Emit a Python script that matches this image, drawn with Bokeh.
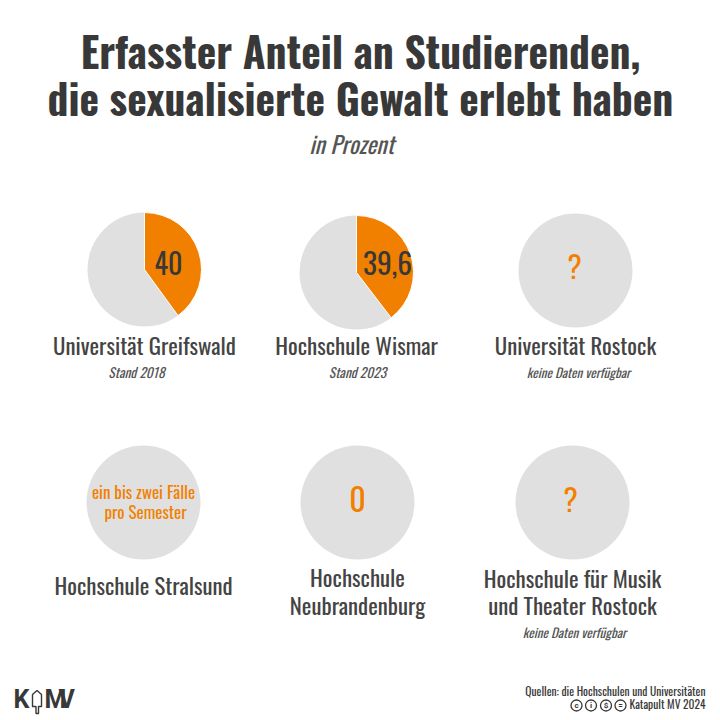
from math import pi
from bokeh.plotting import figure
from bokeh.models import Range1d
from bokeh.core.properties import value
from bokeh.embed import file_html
from bokeh.resources import INLINE

FONT = "Oswald"
ORANGE = "#F28000"
GREY = "#E0E0E0"
DARK = "#383838"
SOFT = "#444444"
NOTE = "#555555"

title_lines = ["Erfasster Anteil an Studierenden,", "die sexualisierte Gewalt erlebt haben"]
subtitle = "in Prozent"
names = ["Universität Greifswald", "Hochschule Wismar", "Universität Rostock",
         "Hochschule Stralsund", "Hochschule", "Neubrandenburg",
         "Hochschule für Musik", "und Theater Rostock"]
shares = [40, 39.6]
pie_labels = ["40", "39,6"]
notes = ["Stand 2018", "Stand 2023", "keine Daten verfügbar", "keine Daten verfügbar"]
placeholders = ["?", "0", "?"]
stralsund_lines = ["ein bis zwei Fälle", "pro Semester"]
source_lines = ["Quellen: die Hochschulen und Universitäten", "Katapult MV 2024"]
licence_glyphs = ["c", "i", "$", "="]

# layout, in page pixels
cx = [144, 356, 575, 143, 357, 572]
cy = [269, 272, 270, 502, 502, 502]
R = 57

p = figure(width=720, height=720, x_range=Range1d(0, 720), y_range=Range1d(0, 720),
           toolbar_location=None, output_backend="svg", min_border=0,
           outline_line_color=None, background_fill_color="white")
p.axis.visible = False
p.grid.visible = False

def Y(y):
    return 720 - y

def txt(x, y, s, size, color=DARK, style="normal", align="center", font=FONT):
    p.text([x], [Y(y)], text=[s], text_font=value(font), text_font_size=f"{size}px",
           text_color=color, text_font_style=style, text_align=align, text_baseline="middle")

p.circle(cx, [Y(v) for v in cy], radius=R, fill_color=GREY, line_color=None)

for i, share in enumerate(shares):
    end = pi / 2
    start = end - 2 * pi * share / 100
    p.wedge([cx[i]], [Y(cy[i])], radius=R, start_angle=start, end_angle=end,
            fill_color=ORANGE, line_color="white", line_width=1)

txt(168, 262, pie_labels[0], 28)
txt(387, 262, pie_labels[1], 29.5)

txt(360, 49, title_lines[0], 41.5, style="bold")
txt(360, 96, title_lines[1], 41.5, style="bold")
txt(351, 143, subtitle, 23.4, style="italic", color=NOTE)

txt(144, 344, names[0], 22.8, color=SOFT)
txt(356, 344, names[1], 22.8, color=SOFT)
txt(575, 344, names[2], 22.8, color=SOFT)
txt(143, 584, names[3], 22.8, color=SOFT)
txt(357, 576, names[4], 22.8, color=SOFT)
txt(357, 604, names[5], 22.8, color=SOFT)
txt(572, 577, names[6], 22.8, color=SOFT)
txt(572, 604, names[7], 22.8, color=SOFT)

txt(136, 371, notes[0], 13.5, style="italic", color=NOTE)
txt(357, 371, notes[1], 13.5, style="italic", color=NOTE)
txt(578, 371, notes[2], 13, style="italic", color=NOTE)
txt(574, 631, notes[3], 13, style="italic", color=NOTE)

txt(574, 265, placeholders[0], 30, color=ORANGE)
txt(357, 498, placeholders[1], 32, color=ORANGE)
txt(570, 498, placeholders[2], 30, color=ORANGE)
txt(143, 491, stralsund_lines[0], 17, color=ORANGE)
txt(145, 511, stralsund_lines[1], 17, color=ORANGE)

# footer
txt(705, 690, source_lines[0], 11.5, align="right")
txt(705, 703, source_lines[1], 11.5, align="right")
for x, g in zip([576, 590.5, 605.5, 620], licence_glyphs):
    p.circle([x], [Y(705)], radius=5.5, fill_color="white", line_color=DARK, line_width=1.3)
    txt(x, 704.5, g, 8, style="bold", font="Roboto")

# logo
txt(13, 699, "K", 25, align="left", style="bold", font="Roboto")
txt(44, 699, "M", 25, align="left", style="bold", font="Roboto")
txt(58, 699, "V", 25, align="left", style="bold", font="Roboto")
p.patch([32, 32, 36.5, 41, 41, 38, 38, 35.5, 35.5],
        [Y(v) for v in [706, 694, 690, 694, 706, 706, 713, 713, 706]],
        fill_color="white", line_color=DARK, line_width=1.4)

open("out.html", "w").write(file_html(p, INLINE))
